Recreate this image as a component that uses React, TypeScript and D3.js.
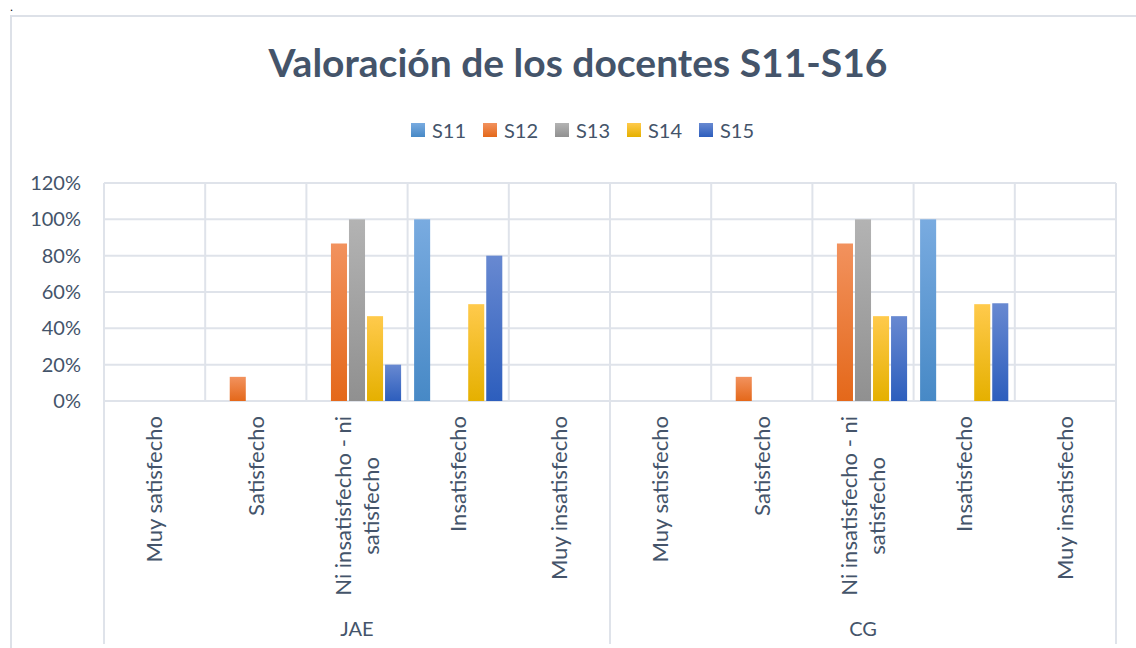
import React, { useRef, useEffect } from 'react';
import * as d3 from 'd3';

// categorías (eje X) por grupo
const groups = ['JAE', 'CG'];
const categoryLines = [
  ['Muy satisfecho'],
  ['Satisfecho'],
  ['Ni insatisfecho - ni', 'satisfecho'],
  ['Insatisfecho'],
  ['Muy insatisfecho'],
];

const seriesNames = ['S11', 'S12', 'S13', 'S14', 'S15'];

// valores por serie: JAE (5 categorías) y luego CG (5 categorías)
const s11Values = [0, 0, 0, 1.0, 0, 0, 0, 0, 1.0, 0];
const s12Values = [0, 0.133, 0.867, 0, 0, 0, 0.133, 0.867, 0, 0];
const s13Values = [0, 0, 1.0, 0, 0, 0, 0, 1.0, 0, 0];
const s14Values = [0, 0, 0.467, 0.533, 0, 0, 0, 0.467, 0.533, 0];
const s15Values = [0, 0, 0.2, 0.8, 0, 0, 0, 0.467, 0.538, 0];

const yTicks = [0, 0.2, 0.4, 0.6, 0.8, 1.0, 1.2];

const seriesValues = [s11Values, s12Values, s13Values, s14Values, s15Values];

// degradados (arriba, abajo)
const gradients: [string, string][] = [
  ['#79abe0', '#4789c6'],
  ['#f2925e', '#e4681a'],
  ['#b3b3b3', '#909090'],
  ['#ffca4c', '#e5b000'],
  ['#6889d1', '#2d5ebd'],
];

const W = 1136;
const H = 648;
const textColor = '#44546a';
const gridColor = '#dfe3ea';

const App = () => {
  const svgRef = useRef<SVGSVGElement>(null);

  useEffect(() => {
    const svg = d3.select(svgRef.current);
    svg.selectAll('*').remove();

    const left = 104;
    const right = 1116;
    const top = 183;
    const bottom = 401;

    const slots = d3.range(groups.length * categoryLines.length);
    const x0 = d3.scaleBand<number>().domain(slots).range([left, right]).padding(0);
    const pad = 6.5;
    const x1 = d3.scaleBand<string>()
      .domain(seriesNames)
      .range([pad, x0.bandwidth() - pad])
      .paddingInner(0.11);
    const y = d3.scaleLinear().domain([0, 1.2]).range([bottom, top]);

    const defs = svg.append('defs');
    seriesNames.forEach((s, i) => {
      const g = defs.append('linearGradient')
        .attr('id', `grad-${s}`)
        .attr('x1', 0).attr('y1', 0).attr('x2', 0).attr('y2', 1);
      g.append('stop').attr('offset', '0%').attr('stop-color', gradients[i][0]);
      g.append('stop').attr('offset', '100%').attr('stop-color', gradients[i][1]);
    });

    // marco
    svg.append('text')
      .attr('x', 10).attr('y', 11)
      .style('font-family', 'serif').style('font-size', '12px')
      .text('.');
    svg.append('rect')
      .attr('x', 11).attr('y', 16)
      .attr('width', W + 20).attr('height', H + 20)
      .attr('fill', 'white')
      .attr('stroke', '#dde1e8').attr('stroke-width', 2);

    // título
    svg.append('text')
      .attr('x', 578).attr('y', 77)
      .attr('text-anchor', 'middle')
      .style('font-family', 'Lato')
      .style('font-weight', 'bold')
      .style('font-size', '39px')
      .attr('fill', textColor)
      .text('Valoración de los docentes S11-S16');

    // leyenda
    const legend = svg.append('g');
    seriesNames.forEach((s, i) => {
      const lx = 411 + i * 72;
      legend.append('rect')
        .attr('x', lx).attr('y', 123).attr('width', 14).attr('height', 14)
        .attr('fill', `url(#grad-${s})`);
      legend.append('text')
        .attr('x', lx + 21).attr('y', 138)
        .style('font-family', 'Lato').style('font-size', '20px')
        .attr('fill', textColor)
        .text(s);
    });

    // rejilla horizontal
    svg.append('g').selectAll('line')
      .data(yTicks)
      .join('line')
      .attr('x1', left).attr('x2', right)
      .attr('y1', d => y(d)).attr('y2', d => y(d))
      .attr('stroke', gridColor).attr('stroke-width', 2);

    // rejilla vertical
    const vlines = slots.map(i => x0(i)!).concat([right]);
    svg.append('g').selectAll('line')
      .data(vlines)
      .join('line')
      .attr('x1', d => d).attr('x2', d => d)
      .attr('y1', top).attr('y2', bottom)
      .attr('stroke', gridColor).attr('stroke-width', 2);

    // separadores de grupo bajo el eje
    const seps = d3.range(groups.length + 1).map(i => left + i * categoryLines.length * x0.step());
    svg.append('g').selectAll('line')
      .data(seps)
      .join('line')
      .attr('x1', d => d).attr('x2', d => d)
      .attr('y1', bottom).attr('y2', 644)
      .attr('stroke', gridColor).attr('stroke-width', 2);

    // etiquetas eje Y
    svg.append('g').selectAll('text')
      .data(yTicks)
      .join('text')
      .attr('x', 81).attr('y', d => y(d))
      .attr('dy', '0.35em')
      .attr('text-anchor', 'end')
      .style('font-family', 'Lato').style('font-size', '20px')
      .attr('fill', textColor)
      .text(d => d3.format('.0%')(d));

    // barras
    const barData = seriesNames.flatMap((s, si) =>
      seriesValues[si].map((v, i) => ({ s, i, v })).filter(d => d.v > 0)
    );
    svg.append('g').selectAll('rect')
      .data(barData)
      .join('rect')
      .attr('x', d => x0(d.i)! + x1(d.s)!)
      .attr('y', d => y(d.v))
      .attr('width', x1.bandwidth())
      .attr('height', d => y(0) - y(d.v))
      .attr('fill', d => `url(#grad-${d.s})`);

    // etiquetas de categoría (rotadas)
    const labelTop = 416;
    slots.forEach(i => {
      const lines = categoryLines[i % categoryLines.length];
      const cx = x0(i)! + x0.bandwidth() / 2;
      const lh = 28;
      const g = svg.append('g');
      const texts = lines.map((line, li) => {
        const bx = cx + (li - (lines.length - 1) / 2) * lh;
        return g.append('text')
          .attr('transform', `translate(${bx},${labelTop}) rotate(-90)`)
          .attr('dy', '0.35em')
          .style('font-family', 'Lato').style('font-size', '22px')
          .attr('fill', textColor)
          .text(line);
      });
      const widths = texts.map(t => (t.node() as SVGTextElement).getComputedTextLength());
      const maxW = d3.max(widths) || 0;
      texts.forEach(t => {
        t.attr('text-anchor', 'middle').attr('x', -maxW / 2);
      });
    });

    // etiquetas de grupo
    groups.forEach((gname, gi) => {
      svg.append('text')
        .attr('x', (seps[gi] + seps[gi + 1]) / 2)
        .attr('y', 636)
        .attr('text-anchor', 'middle')
        .style('font-family', 'Lato').style('font-size', '20px')
        .attr('fill', textColor)
        .text(gname);
    });
  }, []);

  return (
    <svg
      ref={svgRef}
      width={W}
      height={H}
      style={{ position: 'absolute', left: 0, top: 0, background: 'white' }}
    ></svg>
  );
};

export default App;
